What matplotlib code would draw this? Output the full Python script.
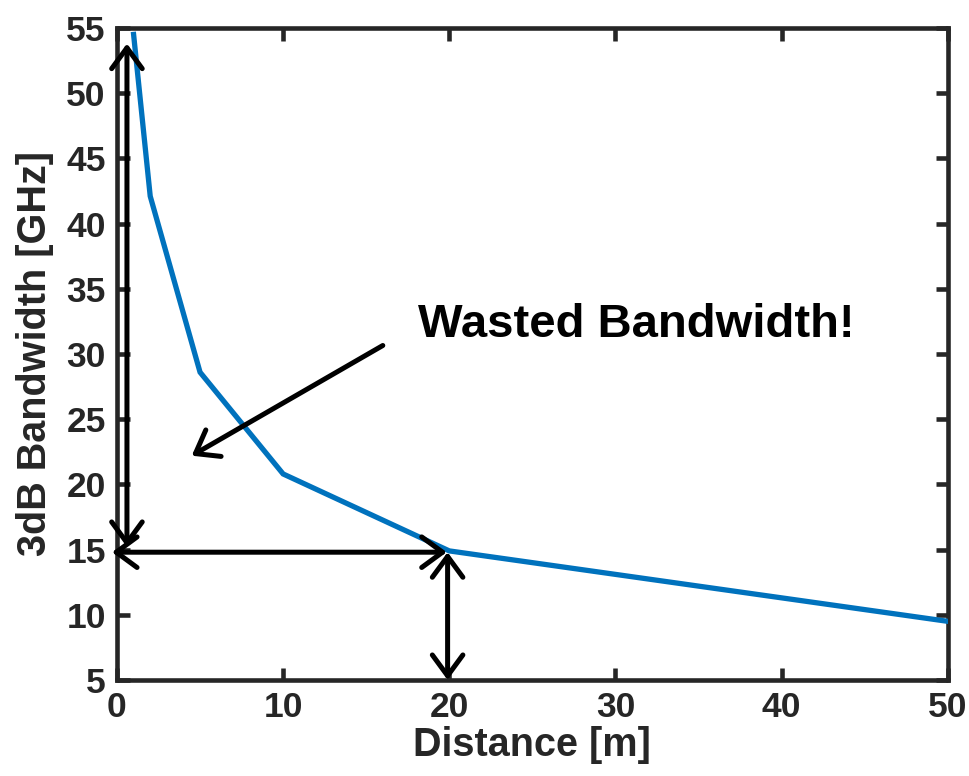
import matplotlib
matplotlib.use("Agg")
import matplotlib.pyplot as plt

plt.rcParams['font.family'] = ['Liberation Sans', 'DejaVu Sans']
plt.rcParams['font.weight'] = 'bold'

# Link distance vs. 3 dB bandwidth
distance_m = [1, 2, 5, 10, 20, 50]
bandwidth_ghz = [54.5, 42.1, 28.6, 20.8, 14.9, 9.5]

x_ticks = [0, 10, 20, 30, 40, 50]
y_ticks = [5, 10, 15, 20, 25, 30, 35, 40, 45, 50, 55]

axis_color = '#262626'
line_color = '#0072BD'

fig = plt.figure(figsize=(9.7, 7.76), dpi=100)
ax = fig.add_axes([0.1206, 0.1237, 0.8564, 0.8403])

ax.plot(distance_m, bandwidth_ghz, color=line_color, lw=3.8, solid_joinstyle='miter', zorder=3)

ax.set_xlim(0, 50)
ax.set_ylim(5, 55)
ax.set_xticks(x_ticks)
ax.set_yticks(y_ticks)

for sp in ax.spines.values():
    sp.set_color(axis_color)
    sp.set_linewidth(3.3)

ax.tick_params(direction='in', length=9, width=3.3, color=axis_color,
               labelcolor=axis_color, labelsize=25.5, top=True, right=True, pad=8)
for lbl in ax.get_xticklabels() + ax.get_yticklabels():
    lbl.set_fontweight('bold')

ax.set_xlabel('Distance [m]', fontsize=28.5, fontweight='bold', color=axis_color, labelpad=1)
ax.set_ylabel('3dB Bandwidth [GHz]', fontsize=28.5, fontweight='bold', color=axis_color, labelpad=9)

dbl = dict(arrowstyle='<->,head_length=0.75,head_width=0.55', lw=3.6, color='black',
           shrinkA=0, shrinkB=0, mutation_scale=20)
one = dict(arrowstyle='->,head_length=0.75,head_width=0.55', lw=3.6, color='black',
           shrinkA=0, shrinkB=0, mutation_scale=20)

# vertical span of available bandwidth
ax.annotate('', xy=(0.6, 53.8), xytext=(0.6, 15.2), arrowprops=dbl, zorder=4)
# horizontal span to 20 m
ax.annotate('', xy=(-0.3, 14.8), xytext=(19.85, 14.8), arrowprops=dbl,
            annotation_clip=False, zorder=4)
# vertical from 15 GHz down to axis at 20 m
ax.annotate('', xy=(19.9, 14.8), xytext=(19.9, 5.0), arrowprops=dbl, zorder=4)
# pointer to the wasted region
ax.annotate('', xy=(4.5, 22.2), xytext=(16.0, 30.65), arrowprops=one, zorder=4)

ax.text(18.1, 32.2, 'Wasted Bandwidth!', fontsize=34, fontweight='bold',
        color='black', ha='left', va='center')

fig.savefig('out.png', dpi=100)
